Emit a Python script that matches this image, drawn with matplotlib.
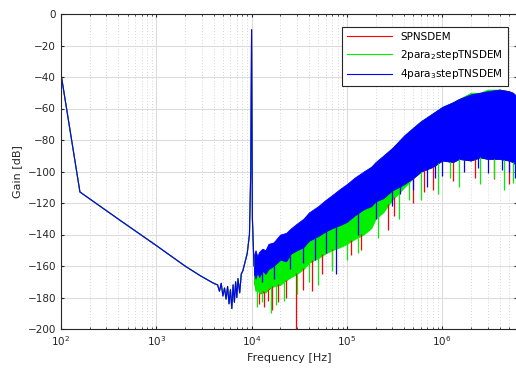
import numpy as np
import matplotlib
matplotlib.use('Agg')
import matplotlib.pyplot as plt

# low frequency part, shared by all three (blue drawn on top)
f_low = [100, 158, 417, 1000, 2000, 2865, 4000, 4400, 4600, 4800, 5000, 5200, 5400,
         5600, 5800, 6000, 6200, 6400, 6600, 6800, 7000, 7200, 7500, 7800, 8100, 8500,
         9000, 9500, 9800, 10000, 10200, 10600]
g_low = [-38, -113, -131, -147, -160, -166, -171, -172, -176, -171, -179, -174, -181,
         -173, -184, -175, -187, -172, -183, -170, -180, -168, -177, -165, -163, -158,
         -152, -140, -100, -10, -130, -160]

# band region (upper / lower envelope of the noisy spectrum)
f_band = [1.06e4, 1.1e4, 1.15e4, 1.2e4, 1.3e4, 1.4e4, 1.5e4, 1.7e4, 2e4, 2.3e4, 2.6e4,
          3e4, 3.5e4, 4e4, 5e4, 6e4, 7e4, 8.5e4, 1e5, 1.2e5, 1.5e5, 1.8e5, 2e5, 2.4e5,
          3e5, 4e5, 5e5, 6e5, 8e5, 1e6, 1.3e6, 1.5e6, 2e6, 2.5e6, 3e6, 4e6, 5e6, 5.5e6, 6e6]
blue_hi = [-153, -150, -154, -151, -149, -150, -146, -145, -140, -139, -136,
           -133, -130, -126, -122, -118, -115, -111, -108, -104, -100, -97, -94, -90,
           -85, -77, -72, -68, -63, -59, -56, -54, -51, -50, -49, -48, -49, -50, -52]
blue_lo = [-165, -168, -164, -167, -163, -165, -162, -160, -156, -157, -152,
           -150, -148, -144, -141, -138, -136, -134, -132, -128, -124, -122, -119, -117,
           -112, -108, -104, -100, -97, -93, -94, -92, -93, -91, -92, -92, -93, -94, -96]
green_hi = [-155, -152, -155, -153, -150, -151, -148, -146, -142, -140, -138,
            -134, -131, -128, -123, -119, -116, -112, -109, -105, -101, -97, -95, -91,
            -85, -78, -72, -68, -63, -59, -56, -54, -50, -50, -48, -48, -49, -50, -52]
green_lo = [-170, -176, -173, -178, -175, -177, -174, -173, -172, -169, -167,
            -165, -162, -158, -155, -152, -150, -148, -146, -143, -140, -136, -130, -126,
            -118, -110, -104, -100, -97, -93, -94, -92, -93, -91, -92, -92, -93, -94, -96]
red_hi = [-156, -153, -156, -154, -151, -152, -149, -147, -143, -141, -139,
          -135, -132, -129, -124, -120, -117, -113, -110, -106, -102, -98, -95, -92,
          -86, -78, -73, -69, -63, -60, -56, -54, -51, -50, -49, -48, -49, -50, -52]
red_lo = [-170, -175, -174, -177, -177, -176, -175, -172, -171, -169, -166,
          -164, -161, -157, -154, -151, -149, -147, -145, -142, -139, -135, -129, -125,
          -117, -109, -104, -100, -97, -93, -94, -92, -93, -91, -92, -92, -93, -94, -96]

# downward spikes
red_sf = [1.2e4, 1.35e4, 1.5e4, 1.65e4, 1.9e4, 2.3e4, 2.9e4, 3.5e4, 4.3e4, 5.5e4, 7e4,
          1.1e5, 1.4e5, 2.7e5, 3.1e5, 5e5, 6.5e5, 8e5, 1.3e6, 2.2e6, 3.5e6, 5e6]
red_sg = [-184, -186, -182, -188, -183, -180, -200, -175, -176, -165, -160,
          -153, -150, -137, -128, -120, -113, -112, -106, -104, -105, -108]
green_sf = [1.15e4, 1.3e4, 1.6e4, 1.8e4, 2.2e4, 3e4, 4e4, 5e4, 7e4, 1e5, 1.3e5,
            2.1e5, 3.5e5, 4.5e5, 6e5, 9e5, 1.2e6, 1.5e6, 2.5e6, 3.5e6, 4.5e6, 5.5e6, 5.9e6]
green_sg = [-186, -183, -190, -185, -182, -178, -170, -172, -163, -156, -152,
            -142, -130, -118, -118, -114, -104, -110, -108, -104, -112, -107, -108]
blue_sf = [1.3e4, 1.7e4, 2.5e4, 3.5e4, 4.6e4, 6e4, 7.6e4, 1.3e5, 2e5, 3e5, 3.6e5, 5e5,
           7e5, 8.5e5, 1e6, 1.7e6, 2.4e6, 3e6, 4.2e6, 5e6, 5.8e6]
blue_sg = [-170, -168, -162, -158, -156, -152, -165, -140, -130, -122, -114, -112,
           -110, -104, -103, -100, -98, -101, -99, -100, -104]

labels = ['SPNSDEM', '2para$_2$stepTNSDEM', '4para$_3$stepTNSDEM']
colors = ['#ff0000', '#00f000', '#0000ff']

fig = plt.figure(figsize=(5.16, 3.68), dpi=100)
ax = fig.add_axes([61/516, 39/368, 456/516, 315/368])

series = [(red_hi, red_lo, red_sf, red_sg),
          (green_hi, green_lo, green_sf, green_sg),
          (blue_hi, blue_lo, blue_sf, blue_sg)]
logf = np.log10(f_band)
for (hi, lo, sf, sg), c, lab in zip(series, colors, labels):
    ax.plot(f_low, g_low, color=c, lw=0.8, label=lab)
    ax.fill_between(f_band, lo, hi, color=c, lw=0.6, edgecolor=c)
    base = np.interp(np.log10(sf), logf, lo)
    ax.vlines(sf, sg, base, color=c, lw=0.9)

ax.set_xscale('log')
ax.set_xlim(100, 6.1e6)
ax.set_ylim(-200, 0)
ax.set_yticks(np.arange(-200, 1, 20))
ax.set_xticks([1e2, 1e3, 1e4, 1e5, 1e6])

ax.grid(True, which='major', color='#dcdcdc', lw=0.8)
ax.grid(True, which='minor', axis='x', color='#c8c8c8', lw=0.6, ls=(0, (1, 2.5)))
ax.set_axisbelow(True)

ax.tick_params(which='both', direction='in', labelsize=7.5, colors='#262626',
               top=True, right=True, length=2.5)
ax.tick_params(which='minor', length=1.5)
for s in ax.spines.values():
    s.set_color('#262626')
    s.set_linewidth(0.8)
ax.spines['right'].set_visible(False)

ax.set_xlabel('Frequency [Hz]', fontsize=8, color='#262626', labelpad=4)
ax.set_ylabel('Gain [dB]', fontsize=8, color='#262626', labelpad=4)

leg = ax.legend(loc='upper right', bbox_to_anchor=(0.98, 0.96), borderaxespad=0,
                fontsize=7.5, handlelength=4.3, fancybox=False, framealpha=1,
                edgecolor='#262626', labelspacing=0.55, borderpad=0.5)
leg.get_frame().set_linewidth(0.8)

fig.savefig('out.png', dpi=100)
